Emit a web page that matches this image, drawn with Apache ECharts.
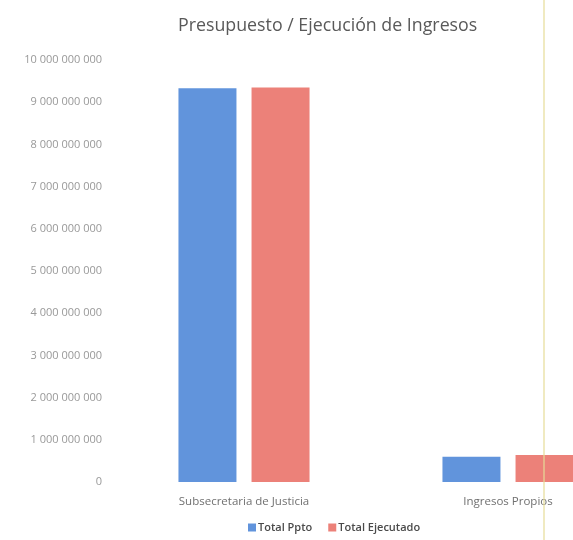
<!DOCTYPE html>
<html><head><meta charset="utf-8">
<script src="https://cdn.jsdelivr.net/npm/echarts@6/dist/echarts.min.js"></script>
<style>html,body{margin:0;padding:0;background:#fff}#c{width:573px;height:540px}</style>
</head><body><div id="c"></div>
<script>
const titleText = 'Presupuesto / Ejecución de Ingresos';
const categories = ['Subsecretaria de Justicia', 'Ingresos Propios'];
const seriesNames = ['Total Ppto', 'Total Ejecutado'];
const totalPpto = [9330000000, 600000000];
const totalEjecutado = [9350000000, 640000000];
const yTicks = [0,1000000000,2000000000,3000000000,4000000000,5000000000,6000000000,7000000000,8000000000,9000000000,10000000000];

function fmt(v){ return String(Math.round(v)).replace(/\B(?=(\d{3})+(?!\d))/g,' '); }

const chart = echarts.init(document.getElementById('c'), null, {renderer:'canvas'});
chart.setOption({
  backgroundColor:'#ffffff',
  animation:false,
  title:{ text:titleText, left:173, top:12,
    textStyle:{ fontFamily:'Open Sans', fontSize:17.8, fontWeight:'normal', color:'#595959' } },
  legend:{ data:seriesNames, bottom:2, left:243, itemWidth:8, itemHeight:8, itemGap:16, icon:'rect',
    textStyle:{ fontFamily:'Open Sans', fontSize:11, fontWeight:600, color:'#4a4a4a', padding:[0,0,0,-3] } },
  grid:{ left:112, width:528, top:60, bottom:58, containLabel:false, outerBoundsMode:'none' },
  xAxis:{ type:'category', data:categories,
    axisLine:{show:false}, axisTick:{show:false},
    axisLabel:{ margin:14, fontFamily:'Open Sans', fontSize:11.5, color:'#707070' } },
  yAxis:{ type:'value', min:yTicks[0], max:yTicks[yTicks.length-1], interval:yTicks[1]-yTicks[0],
    splitLine:{show:false}, axisLine:{show:false}, axisTick:{show:false},
    axisLabel:{ margin:10, fontFamily:'Open Sans', fontSize:11, color:'#999999', formatter:fmt } },
  series:[
    { name:seriesNames[0], type:'bar', data:totalPpto, barWidth:58, barGap:'26%',
      itemStyle:{ color:'#6194dc' } },
    { name:seriesNames[1], type:'bar', data:totalEjecutado, barWidth:58,
      itemStyle:{ color:'#ec8179' } }
  ],
  graphic:[ { type:'rect', shape:{x:543,y:0,width:2,height:540}, style:{fill:'#e6dc98', opacity:0.6}, z:100 } ]
});
</script></body></html>
